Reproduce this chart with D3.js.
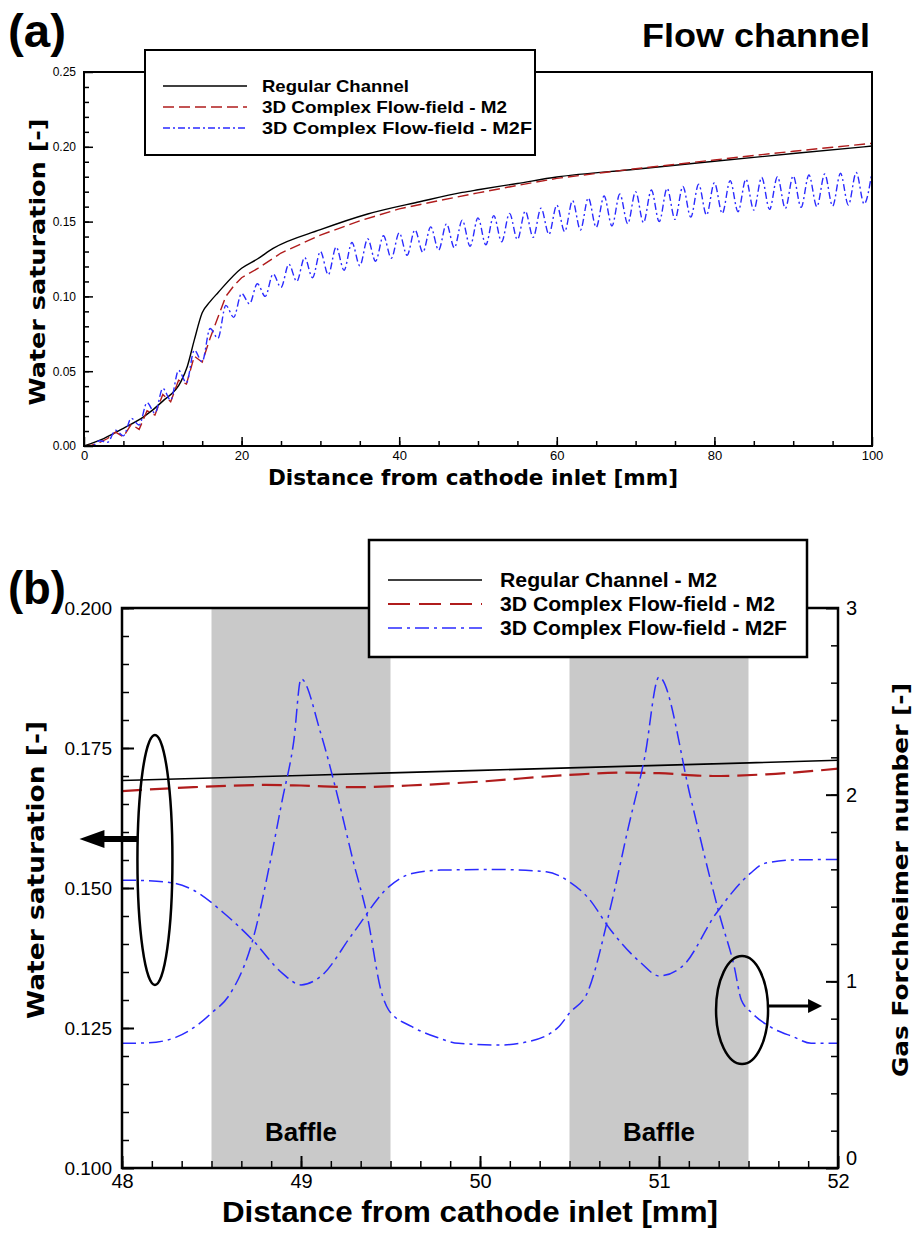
<!DOCTYPE html>
<html>
<head>
<meta charset="utf-8">
<script src="https://cdn.jsdelivr.net/npm/d3@7"></script>
<style>
  body { margin: 0; background: #fff; }
  svg { display: block; }
</style>
</head>
<body>
<svg id="fig" width="917" height="1235"></svg>
<script>
// ---------- panel (a): whole channel ----------
var regX = [0, 2.5, 5, 7.6, 10, 12.3, 13.1, 14, 15, 16, 17, 20, 22, 24, 30, 36, 42.6, 48, 50, 55, 60, 70, 80, 90, 100];
var regY = [0, 0.005, 0.0118, 0.0196, 0.030, 0.043, 0.053, 0.0709, 0.0890, 0.0965, 0.1025, 0.1188, 0.1250, 0.1321,
            0.1446, 0.1551, 0.1633, 0.1695, 0.1713, 0.1755, 0.1798, 0.1850, 0.1903, 0.1955, 0.2005];

var m2X = [0, 1, 2, 3, 4, 5, 6, 7, 8, 9, 10, 11, 12, 13, 14, 15, 16, 17, 18, 19, 20, 22, 25, 30, 35, 40, 45, 50,
           55, 60, 65, 70, 75, 80, 85, 90, 95, 100];
var m2Y = [0, 0.0005, 0.0025, 0.005, 0.0093, 0.0062, 0.0145, 0.0111, 0.0235, 0.0207, 0.0345, 0.0296, 0.044, 0.0414,
           0.060, 0.056, 0.072, 0.086, 0.100, 0.107, 0.1125, 0.1185, 0.129, 0.141, 0.1505, 0.1585, 0.164, 0.1692,
           0.1742, 0.1789, 0.1822, 0.1853, 0.1882, 0.1912, 0.1942, 0.1970, 0.1997, 0.2023];

var m2fX = [0, 1, 2, 3, 4, 5, 6, 7, 8, 9, 10, 11, 12, 13, 14, 15, 16, 17, 18, 19, 20, 21, 22, 23, 24, 25, 26, 27,
            28, 29, 30, 31, 32, 33, 34, 35, 36, 37, 38, 39, 40, 41, 42, 43, 44, 45, 46, 47, 48, 49, 50, 51, 52, 53,
            54, 55, 56, 57, 58, 59, 60, 61, 62, 63, 64, 65, 66, 67, 68, 69, 70, 71, 72, 73, 74, 75, 76, 77, 78, 79,
            80, 81, 82, 83, 84, 85, 86, 87, 88, 89, 90, 91, 92, 93, 94, 95, 96, 97, 98, 99, 100];
var m2fY = [0, 0, 0.0035, 0.0025, 0.0105, 0.0068, 0.0185, 0.0140, 0.0290, 0.0219, 0.0385, 0.0307, 0.0505, 0.0423,
            0.0640, 0.0564, 0.0785, 0.0720, 0.0940, 0.0860, 0.1020, 0.0950, 0.1085, 0.1000, 0.1150, 0.1060, 0.1215,
            0.1100, 0.1260, 0.1125, 0.1300, 0.1145, 0.1330, 0.1175, 0.1360, 0.1205, 0.1385, 0.1235, 0.1405, 0.1255,
            0.1425, 0.1275, 0.1445, 0.1295, 0.1465, 0.1310, 0.1485, 0.1325, 0.1510, 0.1335, 0.1525, 0.1345, 0.1540,
            0.1365, 0.1555, 0.1380, 0.1570, 0.1395, 0.1590, 0.1415, 0.1610, 0.1433, 0.1640, 0.1444, 0.1658, 0.1462,
            0.1671, 0.1471, 0.1684, 0.1486, 0.1700, 0.1493, 0.1711, 0.1500, 0.1722, 0.1515, 0.1735, 0.1530, 0.1750,
            0.1544, 0.1760, 0.1555, 0.1774, 0.1566, 0.1783, 0.1577, 0.1795, 0.1582, 0.1800, 0.1588, 0.1805, 0.1595,
            0.1811, 0.1600, 0.1818, 0.1604, 0.1823, 0.1611, 0.1828, 0.1618, 0.1834];

var legendA = ['Regular Channel', '3D Complex Flow-field - M2', '3D Complex Flow-field - M2F'];
var xTicksA = [0, 20, 40, 60, 80, 100];
var yTicksA = [0, 0.05, 0.10, 0.15, 0.20, 0.25];

// ---------- panel (b): zoom 48-52 mm ----------
var regXB = [48, 49, 50, 51, 52];
var regYB = [0.1692, 0.1701, 0.1710, 0.1719, 0.1728];

var m2XB = [48, 48.4, 48.8, 49.0, 49.3, 49.6, 50.0, 50.5, 50.8, 51.0, 51.3, 51.6, 52];
var m2YB = [0.1673, 0.1680, 0.1684, 0.1683, 0.1680, 0.1683, 0.1690, 0.1702, 0.1706, 0.1705, 0.1700, 0.1703, 0.1713];

var satXB = [48.0, 48.14, 48.30, 48.40, 48.57, 48.73, 48.895, 49.0, 49.11, 49.29, 49.49, 49.62, 49.78, 50.11,
             50.37, 50.50, 50.60, 50.73, 50.90, 51.0, 51.13, 51.32, 51.51, 51.59, 51.75, 52.0];
var satYB = [0.1514, 0.1513, 0.1508, 0.1496, 0.1455, 0.1407, 0.1348, 0.1327, 0.1342, 0.1419, 0.1502, 0.1526,
             0.1532, 0.1533, 0.1529, 0.1511, 0.1484, 0.1425, 0.1366, 0.1343, 0.1360, 0.1455, 0.1526, 0.1544,
             0.1550, 0.1551];

var forchXB = [48.0, 48.14, 48.3, 48.435, 48.5, 48.6, 48.73, 48.83, 48.895, 48.96, 49.0, 49.11, 49.21, 49.29,
               49.37, 49.45, 49.49, 49.62, 49.75, 49.88, 50.11, 50.27, 50.44, 50.5, 50.6, 50.73, 50.83, 50.92,
               51.0, 51.18, 51.26, 51.34, 51.42, 51.46, 51.52, 51.62, 51.75, 51.85, 52.0];
var forchYB = [0.668, 0.67, 0.70, 0.776, 0.83, 0.927, 1.22, 1.65, 1.97, 2.29, 2.62, 2.33, 1.97, 1.65, 1.35,
               0.94, 0.846, 0.757, 0.703, 0.668, 0.659, 0.677, 0.757, 0.83, 0.94, 1.40, 1.83, 2.2, 2.63, 1.97,
               1.65, 1.35, 1.08, 0.9, 0.83, 0.757, 0.703, 0.668, 0.668];

var baffles = [[48.5, 49.5], [50.5, 51.5]];
var legendB = ['Regular Channel - M2', '3D Complex Flow-field - M2', '3D Complex Flow-field - M2F'];
var xTicksB = [48, 49, 50, 51, 52];
var yTicksB = [0.100, 0.125, 0.150, 0.175, 0.200];
var y2TicksB = [0, 1, 2, 3];

var BLACK = '#000', RED = '#b01c1c', BLUE = '#2a2aff';
var NARROW = '"Liberation Sans Narrow", "Liberation Sans", Arial, sans-serif';
var SANS = '"Liberation Sans", Arial, sans-serif';
var WIDE = '"DejaVu Sans", Verdana, sans-serif';

var svg = d3.select('#fig');

function pairs(xs, ys) {
  return xs.map(function(x, i) { return [x, ys[i]]; });
}

function label(x, y, str, size, font, len, weight, rot) {
  var t = svg.append('text')
    .attr('x', x).attr('y', y)
    .attr('font-family', font)
    .attr('font-size', size)
    .attr('font-weight', weight || 'bold')
    .attr('text-anchor', 'middle')
    .text(str);
  if (len) t.attr('textLength', len).attr('lengthAdjust', 'spacingAndGlyphs');
  if (rot) t.attr('transform', 'rotate(' + rot + ',' + x + ',' + y + ')');
  return t;
}

function styleAxis(g, size, font) {
  g.select('.domain').remove();
  g.selectAll('.tick line').attr('stroke', '#000').attr('stroke-width', 1.5);
  g.selectAll('text').attr('font-family', font).attr('font-size', size).attr('fill', '#000');
}

// ================= panel (a) =================
var xA = d3.scaleLinear().domain([0, 100]).range([84, 872]);
var yA = d3.scaleLinear().domain([0, 0.25]).range([446, 72]);

var lineA = d3.line().x(function(d) { return xA(d[0]); }).y(function(d) { return yA(d[1]); });

var gA = svg.append('g');
gA.append('path').datum(pairs(regX, regY))
  .attr('d', lineA.curve(d3.curveMonotoneX))
  .attr('fill', 'none').attr('stroke', BLACK).attr('stroke-width', 1.4);
gA.append('path').datum(pairs(m2X, m2Y))
  .attr('d', lineA.curve(d3.curveLinear))
  .attr('fill', 'none').attr('stroke', RED).attr('stroke-width', 1.4).attr('stroke-dasharray', '11,5');
gA.append('path').datum(pairs(m2fX, m2fY))
  .attr('d', lineA.curve(d3.curveMonotoneX))
  .attr('fill', 'none').attr('stroke', BLUE).attr('stroke-width', 1.4).attr('stroke-dasharray', '7,3,2,3');

// axes, ticks pointing inwards
var axA = svg.append('g').attr('transform', 'translate(0,446)')
  .call(d3.axisBottom(xA).tickValues(xTicksA).tickSize(-9).tickPadding(5).tickFormat(d3.format('d')));
styleAxis(axA, 13, SANS);
var axAm = svg.append('g').attr('transform', 'translate(0,446)')
  .call(d3.axisBottom(xA).tickValues(d3.range(5, 100, 5)).tickSize(-5).tickFormat(''));
styleAxis(axAm, 13, SANS);
var ayA = svg.append('g').attr('transform', 'translate(84,0)')
  .call(d3.axisLeft(yA).tickValues(yTicksA).tickSize(-9).tickPadding(8).tickFormat(d3.format('.2f')));
styleAxis(ayA, 12, SANS);
var ayAm = svg.append('g').attr('transform', 'translate(84,0)')
  .call(d3.axisLeft(yA).tickValues(d3.range(0.01, 0.25, 0.01)).tickSize(-5).tickFormat(''));
styleAxis(ayAm, 12, SANS);

svg.append('rect').attr('x', 84).attr('y', 72).attr('width', 788).attr('height', 374)
  .attr('fill', 'none').attr('stroke', '#000').attr('stroke-width', 2);

// legend (a)
var legA = svg.append('g');
legA.append('rect').attr('x', 145).attr('y', 50).attr('width', 390).attr('height', 105)
  .attr('fill', '#fff').attr('stroke', '#000').attr('stroke-width', 2);
var legStylesA = [[BLACK, null], [RED, '11,5'], [BLUE, '7,3,2,3']];
var legLenA = [147, 245, 270];
legendA.forEach(function(name, i) {
  var y = 86 + i * 21;
  legA.append('line').attr('x1', 163).attr('x2', 247).attr('y1', y).attr('y2', y)
    .attr('stroke', legStylesA[i][0]).attr('stroke-width', 1.4)
    .attr('stroke-dasharray', legStylesA[i][1]);
  legA.append('text').attr('x', 262).attr('y', y + 6)
    .attr('font-family', NARROW).attr('font-weight', 'bold').attr('font-size', 17)
    .attr('textLength', legLenA[i]).attr('lengthAdjust', 'spacingAndGlyphs')
    .text(name);
});

label(37, 47, '(a)', 46, NARROW, 58);
label(756, 47, 'Flow channel', 33, NARROW, 228);
label(473, 485, 'Distance from cathode inlet [mm]', 21, WIDE, 410);
label(45, 262, 'Water saturation [-]', 22, WIDE, 287, 'bold', -90);

// ================= panel (b) =================
var xB = d3.scaleLinear().domain([48, 52]).range([122, 838]);
var yB = d3.scaleLinear().domain([0.1, 0.2]).range([1168, 608]);
var yB2 = d3.scaleLinear().domain([0, 3]).range([1168, 608]);

svg.append('g').selectAll('rect').data(baffles).enter().append('rect')
  .attr('x', function(d) { return xB(d[0]); })
  .attr('width', function(d) { return xB(d[1]) - xB(d[0]); })
  .attr('y', yB(0.2)).attr('height', yB(0.1) - yB(0.2))
  .attr('fill', '#c9c9c9');

var lineB = d3.line().x(function(d) { return xB(d[0]); }).y(function(d) { return yB(d[1]); });
var lineB2 = d3.line().x(function(d) { return xB(d[0]); }).y(function(d) { return yB2(d[1]); })
  .curve(d3.curveMonotoneX);

var gB = svg.append('g');
gB.append('path').datum(pairs(regXB, regYB))
  .attr('d', lineB.curve(d3.curveMonotoneX))
  .attr('fill', 'none').attr('stroke', BLACK).attr('stroke-width', 1.6);
gB.append('path').datum(pairs(m2XB, m2YB))
  .attr('d', lineB.curve(d3.curveMonotoneX))
  .attr('fill', 'none').attr('stroke', RED).attr('stroke-width', 2.2).attr('stroke-dasharray', '20,8');
gB.append('path').datum(pairs(satXB, satYB))
  .attr('d', lineB.curve(d3.curveMonotoneX))
  .attr('fill', 'none').attr('stroke', BLUE).attr('stroke-width', 1.5).attr('stroke-dasharray', '14,5,3,5');
gB.append('path').datum(pairs(forchXB, forchYB))
  .attr('d', lineB2)
  .attr('fill', 'none').attr('stroke', BLUE).attr('stroke-width', 1.5).attr('stroke-dasharray', '14,5,3,5');

var axB = svg.append('g').attr('transform', 'translate(0,1168)')
  .call(d3.axisBottom(xB).tickValues(xTicksB).tickSize(-12).tickPadding(6).tickFormat(d3.format('d')));
styleAxis(axB, 20, SANS);
axB.selectAll('.tick line').attr('stroke-width', 2);
var axBm = svg.append('g').attr('transform', 'translate(0,1168)')
  .call(d3.axisBottom(xB).tickValues(d3.range(48, 52, 1 / 6)).tickSize(-7).tickFormat(''));
styleAxis(axBm, 20, SANS);

var ayB = svg.append('g').attr('transform', 'translate(122,0)')
  .call(d3.axisLeft(yB).tickValues(yTicksB).tickSize(-12).tickPadding(10).tickFormat(d3.format('.3f')));
styleAxis(ayB, 19, SANS);
ayB.selectAll('.tick line').attr('stroke-width', 2);
var ayBm = svg.append('g').attr('transform', 'translate(122,0)')
  .call(d3.axisLeft(yB).tickValues(d3.range(0.105, 0.2, 0.005)).tickSize(-7).tickFormat(''));
styleAxis(ayBm, 19, SANS);

var ay2B = svg.append('g').attr('transform', 'translate(838,0)')
  .call(d3.axisRight(yB2).tickValues(y2TicksB).tickSize(-12).tickPadding(8).tickFormat(d3.format('d')));
styleAxis(ay2B, 20, SANS);
ay2B.selectAll('.tick line').attr('stroke-width', 2);
// the "0" sits raised next to the "52" of the bottom axis, as in the original
ay2B.selectAll('.tick text').filter(function(d) { return d === 0; }).attr('dy', '-0.2em');
var ay2Bm = svg.append('g').attr('transform', 'translate(838,0)')
  .call(d3.axisRight(yB2).tickValues(d3.range(0.2, 3, 0.2)).tickSize(-7).tickFormat(''));
styleAxis(ay2Bm, 20, SANS);

svg.append('rect').attr('x', 122).attr('y', 608).attr('width', 716).attr('height', 560)
  .attr('fill', 'none').attr('stroke', '#000').attr('stroke-width', 2.5);

// baffle labels
baffles.forEach(function(b) {
  label(xB((b[0] + b[1]) / 2), 1141, 'Baffle', 26, SANS, 72);
});

// legend (b)
var legB = svg.append('g');
legB.append('rect').attr('x', 369).attr('y', 540).attr('width', 438).attr('height', 117)
  .attr('fill', '#fff').attr('stroke', '#000').attr('stroke-width', 2.5);
var legStylesB = [[BLACK, null, 1.6], [RED, '22,9', 2.2], [BLUE, '14,5,3,5', 1.5]];
var legLenB = [217, 275, 287];
legendB.forEach(function(name, i) {
  var y = 580 + i * 24;
  legB.append('line').attr('x1', 388).attr('x2', 482).attr('y1', y).attr('y2', y)
    .attr('stroke', legStylesB[i][0]).attr('stroke-width', legStylesB[i][2])
    .attr('stroke-dasharray', legStylesB[i][1]);
  legB.append('text').attr('x', 500).attr('y', y + 7)
    .attr('font-family', NARROW).attr('font-weight', 'bold').attr('font-size', 20)
    .attr('textLength', legLenB[i]).attr('lengthAdjust', 'spacingAndGlyphs')
    .text(name);
});

// ellipses marking which axis each curve belongs to
var leftEl = { cx: xB(48.184), cy: yB(0.155) };
var rightEl = { cx: xB(51.464), cy: yB2(0.846) };
svg.append('ellipse').attr('cx', leftEl.cx).attr('cy', leftEl.cy).attr('rx', 17.5).attr('ry', 125)
  .attr('fill', 'none').attr('stroke', '#000').attr('stroke-width', 2.5);
svg.append('ellipse').attr('cx', rightEl.cx).attr('cy', rightEl.cy).attr('rx', 26).attr('ry', 54)
  .attr('fill', 'none').attr('stroke', '#000').attr('stroke-width', 2.5);

// left arrow (thick)
var la = { x0: leftEl.cx - 17.5, y: leftEl.cy - 21 };
svg.append('path')
  .attr('d', 'M' + la.x0 + ',' + (la.y - 3) + 'L' + (la.x0 - 33) + ',' + (la.y - 3) +
             'L' + (la.x0 - 33) + ',' + (la.y - 9) + 'L' + (la.x0 - 58) + ',' + la.y +
             'L' + (la.x0 - 33) + ',' + (la.y + 9) + 'L' + (la.x0 - 33) + ',' + (la.y + 3) +
             'L' + la.x0 + ',' + (la.y + 3) + 'Z')
  .attr('fill', '#000');

// right arrow (thin)
var ra = { x0: rightEl.cx + 26, y: rightEl.cy - 4 };
svg.append('line').attr('x1', ra.x0).attr('x2', ra.x0 + 42).attr('y1', ra.y).attr('y2', ra.y)
  .attr('stroke', '#000').attr('stroke-width', 3);
svg.append('path')
  .attr('d', 'M' + (ra.x0 + 40) + ',' + (ra.y - 7) + 'L' + (ra.x0 + 54) + ',' + ra.y +
             'L' + (ra.x0 + 40) + ',' + (ra.y + 7) + 'Z')
  .attr('fill', '#000');

label(37, 604, '(b)', 46, NARROW, 58);
label(470, 1222, 'Distance from cathode inlet [mm]', 30, SANS, 496);
label(44, 870, 'Water saturation [-]', 23, WIDE, 298, 'bold', -90);
label(908, 880, 'Gas Forchheimer number [-]', 22, WIDE, 394, 'bold', -90);
</script>
</body>
</html>
